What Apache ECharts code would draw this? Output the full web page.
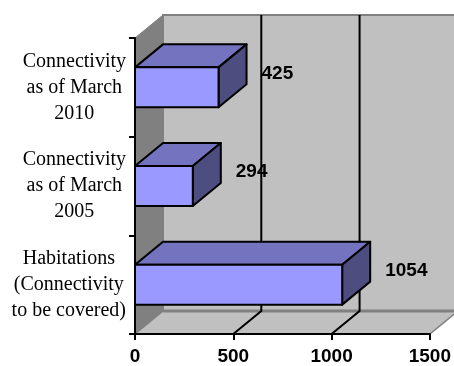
<!DOCTYPE html>
<html>
<head>
<meta charset="utf-8">
<script src="https://cdn.jsdelivr.net/npm/echarts@6/dist/echarts.min.js"></script>
<style>
  html, body { margin: 0; padding: 0; background: #fff; }
  #chart { width: 454px; height: 366px; }
</style>
</head>
<body>
<div id="chart"></div>
<script>
// Categories listed bottom-up (category axis starts at the bottom)
const categories = [
  'Habitations\n(Connectivity\nto be covered)',
  'Connectivity\nas of March\n2005',
  'Connectivity\nas of March\n2010'
];
const values = [1054, 294, 425];
const axisTicks = [0, 500, 1000, 1500];
const gridTicks = [500, 1000];

// 3-D depth offset of walls and boxes
const DX = 28, DY = -23;

const chart = echarts.init(document.getElementById('chart'), null, { renderer: 'canvas' });

function renderWalls(params, api) {
  const cs = params.coordSys;
  const L = cs.x, T = cs.y, R = cs.x + cs.width, B = cs.y + cs.height;
  return {
    type: 'group',
    children: [
      { type: 'polygon', shape: { points: [[L + DX, T + DY], [R + DX, T + DY], [R + DX, B + DY], [L + DX, B + DY]] },
        style: { fill: '#c0c0c0', stroke: '#808080', lineWidth: 2 } },
      { type: 'polygon', shape: { points: [[L, T], [L + DX, T + DY], [L + DX, B + DY], [L, B]] },
        style: { fill: '#808080', stroke: '#808080', lineWidth: 1 } },
      { type: 'polygon', shape: { points: [[L, B], [L + DX, B + DY], [R + DX, B + DY], [R, B]] },
        style: { fill: '#c0c0c0', stroke: '#808080', lineWidth: 1.5 } },
      { type: 'line', shape: { x1: L + DX, y1: B + DY, x2: R + DX, y2: B + DY },
        style: { stroke: '#808080', lineWidth: 3 } }
    ]
  };
}

function renderGridLine(params, api) {
  const cs = params.coordSys;
  const p = api.coord([api.value(0), 0]);
  const x = p[0], T = cs.y, B = cs.y + cs.height;
  return {
    type: 'polyline',
    shape: { points: [[x, B], [x + DX, B + DY], [x + DX, T + DY]] },
    style: { stroke: '#000', lineWidth: 2, fill: null }
  };
}

function boxGeom(api) {
  const cat = api.value(1);
  const start = api.coord([0, cat]);
  const end = api.coord([api.value(0), cat]);
  const band = api.size([0, 1])[1];
  const h = band * 0.405;
  return { x0: start[0], x1: end[0], yc: end[1], yT: end[1] - h / 2, yB: end[1] + h / 2 };
}

function renderBar(params, api) {
  const g = boxGeom(api);
  const st = (fill) => ({ fill: fill, stroke: '#000', lineWidth: 2, lineJoin: 'round' });
  return {
    type: 'group',
    children: [
      { type: 'polygon', shape: { points: [[g.x0, g.yT], [g.x0 + DX, g.yT + DY], [g.x1 + DX, g.yT + DY], [g.x1, g.yT]] }, style: st('#7373bf') },
      { type: 'polygon', shape: { points: [[g.x1, g.yT], [g.x1 + DX, g.yT + DY], [g.x1 + DX, g.yB + DY], [g.x1, g.yB]] }, style: st('#4d4d80') },
      { type: 'rect', shape: { x: g.x0, y: g.yT, width: g.x1 - g.x0, height: g.yB - g.yT }, style: st('#9999ff') }
    ]
  };
}

function renderLabel(params, api) {
  const g = boxGeom(api);
  return {
    type: 'text',
    x: g.x1 + DX + 15,
    y: g.yc - 14,
    style: {
      text: String(api.value(0)),
      font: 'bold 19px "Liberation Sans", Arial, sans-serif',
      fill: '#000',
      align: 'left', textAlign: 'left',
      verticalAlign: 'middle', textVerticalAlign: 'middle'
    }
  };
}

const barData = values.map((v, i) => [v, i]);

chart.setOption({
  animation: false,
  grid: { left: 135, top: 38, width: 296, height: 296, containLabel: false },
  xAxis: {
    type: 'value', min: 0, max: 1500, interval: 500, z: 10,
    axisLine: { show: true, lineStyle: { color: '#000', width: 2 } },
    axisTick: { show: true, length: 6, lineStyle: { color: '#000', width: 2 } },
    splitLine: { show: false },
    axisLabel: {
      color: '#000', fontSize: 19, fontWeight: 'bold',
      fontFamily: '"Liberation Sans", Arial, sans-serif', margin: 13,
      formatter: (v) => axisTicks.includes(v) ? String(v) : ''
    }
  },
  yAxis: {
    type: 'category', data: categories, z: 10,
    axisLine: { show: true, lineStyle: { color: '#000', width: 2 } },
    axisTick: { show: true, length: 6, lineStyle: { color: '#000', width: 2 } },
    splitLine: { show: false },
    axisLabel: {
      align: 'right', margin: 9,
      formatter: (v) => v.split('\n').map((s) => '{c|' + s + '}').join('\n'),
      rich: {
        c: { align: 'center', color: '#000', fontSize: 20, lineHeight: 26,
             fontFamily: '"Liberation Serif", "Times New Roman", serif' }
      }
    }
  },
  series: [
    { type: 'custom', name: 'walls', renderItem: renderWalls, data: [[0, 0]], clip: false, z: 1, silent: true },
    { type: 'custom', name: 'labels', renderItem: renderLabel, data: barData, clip: false, z: 2, silent: true },
    { type: 'custom', name: 'grid', renderItem: renderGridLine, data: gridTicks.map((v) => [v, 0]), clip: false, z: 3, silent: true },
    { type: 'custom', name: 'bars', renderItem: renderBar, data: barData, clip: false, z: 4 }
  ]
});
</script>
</body>
</html>
